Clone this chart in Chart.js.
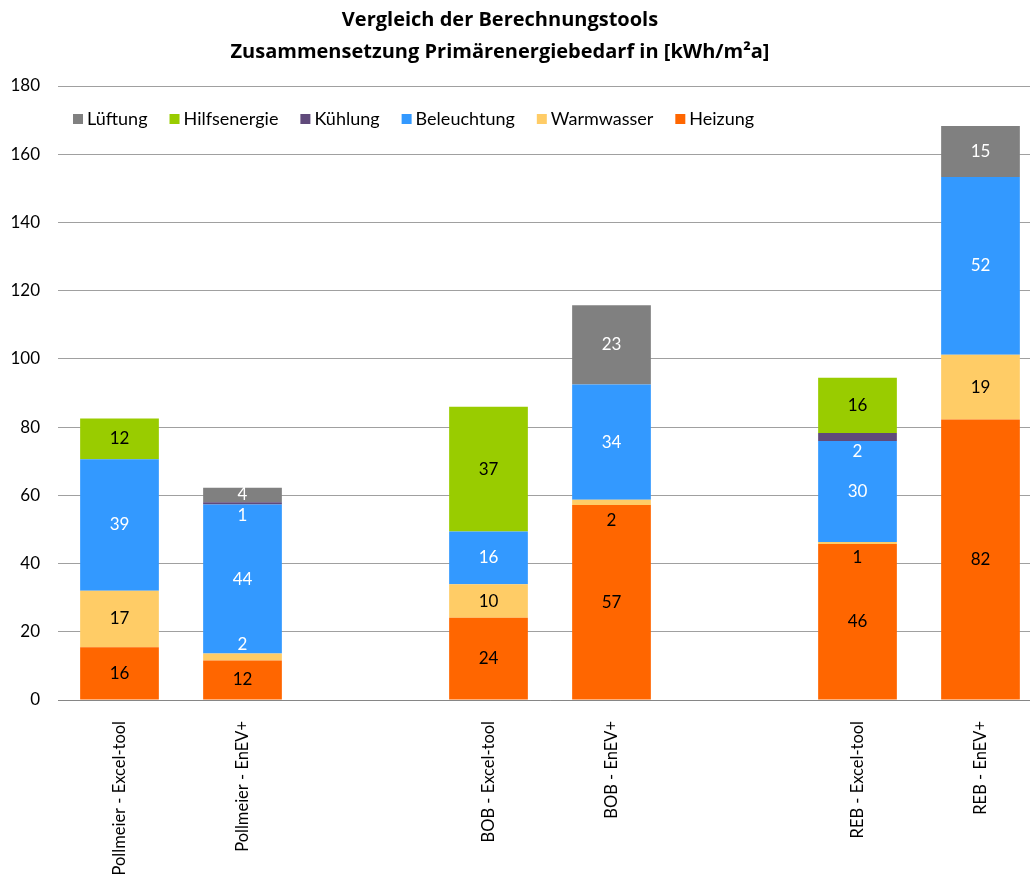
<!DOCTYPE html>
<html>
<head>
<meta charset="utf-8">
<script src="https://cdn.jsdelivr.net/npm/chart.js@4/dist/chart.umd.min.js"></script>
<style>
	html, body { margin: 0; padding: 0; overflow: hidden; background: #fff; }
	canvas { display: block; }
</style>
</head>
<body>
<canvas id="primaryChart" width="1042" height="900"></canvas>
<script>
// empty entries leave a gap between the three buildings
const categories = ['Pollmeier - Excel-tool', 'Pollmeier - EnEV+', '', 'BOB - Excel-tool', 'BOB - EnEV+', '', 'REB - Excel-tool', 'REB - EnEV+'];

const heizung      = [15.5, 11.6, null, 24.1, 57.2, null, 45.7, 82.2];
const warmwasser   = [16.5,  2.0, null,  9.8,  1.5, null,  0.6, 19.0];
const beleuchtung  = [38.6, 43.7, null, 15.5, 33.8, null, 29.6, 52.1];
const kuehlung     = [null,  0.7, null, null, null, null,  2.4, null];
const hilfsenergie = [11.9, null, null, 36.6, null, null, 16.2, null];
const lueftung     = [null,  4.2, null, null, 23.2, null, null, 15.0];

const yTicks = [0, 20, 40, 60, 80, 100, 120, 140, 160, 180];

const titleLines = ['Vergleich der Berechnungstools', 'Zusammensetzung Primärenergiebedarf in [kWh/m²a]'];

const FONT = 'Lato, "Open Sans", sans-serif';

// labels of thin segments are pushed into the neighbouring segment
const labelNudges = {
	'Warmwasser:1': { dy: -13, color: '#ffffff' },
	'Kühlung:1': { dy: 12 },
	'Warmwasser:4': { dy: 18 },
	'Warmwasser:6': { dy: 14 },
	'Kühlung:6': { dy: 15 },
};

function series(label, data, color, textColor)
{
	return {
		label: label,
		data: data,
		backgroundColor: color,
		borderWidth: 0,
		labelColor: textColor,
	};
}

const datasets = [
	series('Heizung', heizung, '#ff6600', '#000000'),
	series('Warmwasser', warmwasser, '#ffcc66', '#000000'),
	series('Beleuchtung', beleuchtung, '#3399ff', '#ffffff'),
	series('Kühlung', kuehlung, '#604a7b', '#ffffff'),
	series('Hilfsenergie', hilfsenergie, '#99cc00', '#000000'),
	series('Lüftung', lueftung, '#808080', '#ffffff'),
];

const valueLabels = {
	id: 'valueLabels',
	afterDatasetsDraw(chart) {
		let ctx = chart.ctx;
		ctx.save();
		ctx.font = '17px ' + FONT;
		ctx.textAlign = 'center';
		ctx.textBaseline = 'middle';
		chart.data.datasets.forEach(function(ds, i) {
			let meta = chart.getDatasetMeta(i);
			meta.data.forEach(function(bar, j) {
				let v = ds.data[j];
				if (v === null || v === undefined)
					return;
				let nudge = labelNudges[ds.label + ':' + j] || {};
				let y = (bar.y + bar.base) / 2 + (nudge.dy || 0);
				ctx.fillStyle = nudge.color || ds.labelColor;
				ctx.fillText(String(Math.round(v)), bar.x, y);
			});
		});
		ctx.restore();
	}
};

// legend sits inside the plot, in reverse stacking order
const insideLegend = {
	id: 'insideLegend',
	afterDraw(chart) {
		let ctx = chart.ctx;
		ctx.save();
		ctx.font = '18px ' + FONT;
		ctx.textBaseline = 'middle';
		ctx.textAlign = 'left';
		let x = 73;
		let y = 119;
		chart.data.datasets.slice().reverse().forEach(function(ds) {
			ctx.fillStyle = ds.backgroundColor;
			ctx.fillRect(x, y - 5, 10, 10);
			ctx.fillStyle = '#000000';
			ctx.fillText(ds.label, x + 14, y);
			x += 14 + ctx.measureText(ds.label).width + 22;
		});
		ctx.restore();
	}
};

// two-line heading, centred on the visible page width
const heading = {
	id: 'heading',
	afterDraw(chart) {
		let ctx = chart.ctx;
		ctx.save();
		ctx.font = 'bold 20px "Open Sans", Lato, sans-serif';
		ctx.fillStyle = '#000000';
		ctx.textAlign = 'center';
		ctx.textBaseline = 'middle';
		titleLines.forEach(function(line, i) {
			ctx.fillText(line, 500, 20 + i * 32);
		});
		ctx.restore();
	}
};

let ctx = document.getElementById('primaryChart').getContext('2d');
new Chart(ctx, {
	type: 'bar',
	data: {
		labels: categories,
		datasets: datasets,
	},
	options: {
		responsive: false,
		animation: false,
		layout: { padding: { top: 86, right: 0, bottom: 0, left: 0 } },
		datasets: {
			bar: { categoryPercentage: 1.0, barPercentage: 0.64 }
		},
		plugins: {
			legend: { display: false },
			tooltip: { enabled: false },
			title: { display: false },
		},
		scales: {
			x: {
				stacked: true,
				grid: { display: false, drawTicks: false },
				border: { display: true, color: '#868686', width: 1 },
				ticks: {
					color: '#000000',
					font: { family: FONT, size: 16.5 },
					minRotation: 90,
					maxRotation: 90,
					autoSkip: false,
					padding: 21,
				},
				afterFit: function(scale) { scale.height = 200; },
			},
			y: {
				stacked: true,
				min: 0,
				max: 180,
				afterBuildTicks: function(scale) {
					scale.ticks = yTicks.map(v => ({ value: v }));
				},
				grid: { color: '#a0a0a0', lineWidth: 1, drawTicks: false },
				border: { display: false },
				ticks: {
					color: '#000000',
					font: { family: FONT, size: 17 },
					padding: 18,
				},
				afterFit: function(scale) { scale.width = 58; },
			},
		},
	},
	plugins: [valueLabels, insideLegend, heading],
});
</script>
</body>
</html>
